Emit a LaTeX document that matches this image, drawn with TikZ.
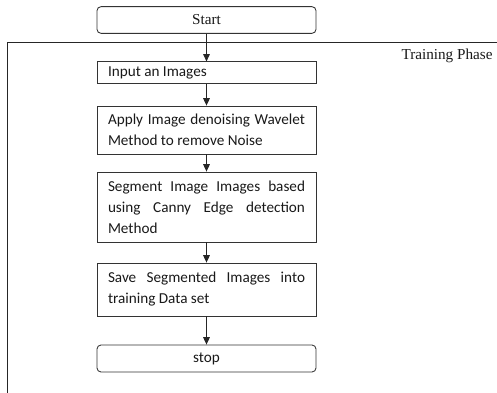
\documentclass[tikz,border=0pt]{standalone}
\usepackage{fontspec}
\setmainfont{Liberation Serif}
\newfontfamily\boxfont{Carlito}
\usetikzlibrary{arrows.meta}
\begin{document}
\begin{tikzpicture}[x=0.75pt,y=-0.75pt,
  line width=0.65pt, draw=black!80,
  flowbox/.style={draw=black!80, rectangle, inner xsep=8.25pt, inner ysep=0pt,
    text width=147.75pt, align=justify, text=black!90,
    font=\boxfont\fontsize{11.4}{15.75}\selectfont},
  termbox/.style={draw=black!80, rectangle, rounded corners=3pt, inner sep=0pt,
    minimum width=164.25pt, text=black!90},
  flowarrow/.style={draw=black!85, -{Triangle[length=5.5pt,width=5pt]}},
  phaselabel/.style={font=\fontsize{11.4}{14}\selectfont, inner sep=0pt, text=black!90}]
\useasboundingbox (0,0) rectangle (497,393);
% frame
\coordinate (ftr) at (497,42);
\coordinate (ftl) at (7.5,42);
\coordinate (fbl) at (7.5,393);
\draw[black!85] (ftr) -- (ftl) -- (fbl);
\node[phaselabel, anchor=east] (phase) at (493,56) {Training Phase};
% nodes
\node[termbox, minimum height=20pt, font=\fontsize{11.4}{14}\selectfont] (start) at (206.5,20) {Start};
\node[flowbox, minimum height=16pt] (input) at (206.5,72.5) {Input an Images};
\node[flowbox, minimum height=36pt] (apply) at (206.5,130) {Apply Image denoising Wavelet\linebreak Method to remove Noise};
\node[flowbox, minimum height=52.5pt] (segment) at (206.5,207) {Segment Image Images based\linebreak using Canny Edge detection\linebreak Method};
\node[flowbox, minimum height=39.75pt] (save) at (206.5,289.5) {Save Segmented Images into\linebreak training Data set};
\node[termbox, minimum height=20.25pt, font=\boxfont\fontsize{11.4}{14}\selectfont] (stop) at (206.5,358.5) {stop};
% arrows
\draw[flowarrow] (start) -- (input);
\draw[flowarrow] (input) -- (apply);
\draw[flowarrow] (apply) -- (segment);
\draw[flowarrow] (segment) -- (save);
\draw[flowarrow] (save) -- (stop);
\end{tikzpicture}
\end{document}
